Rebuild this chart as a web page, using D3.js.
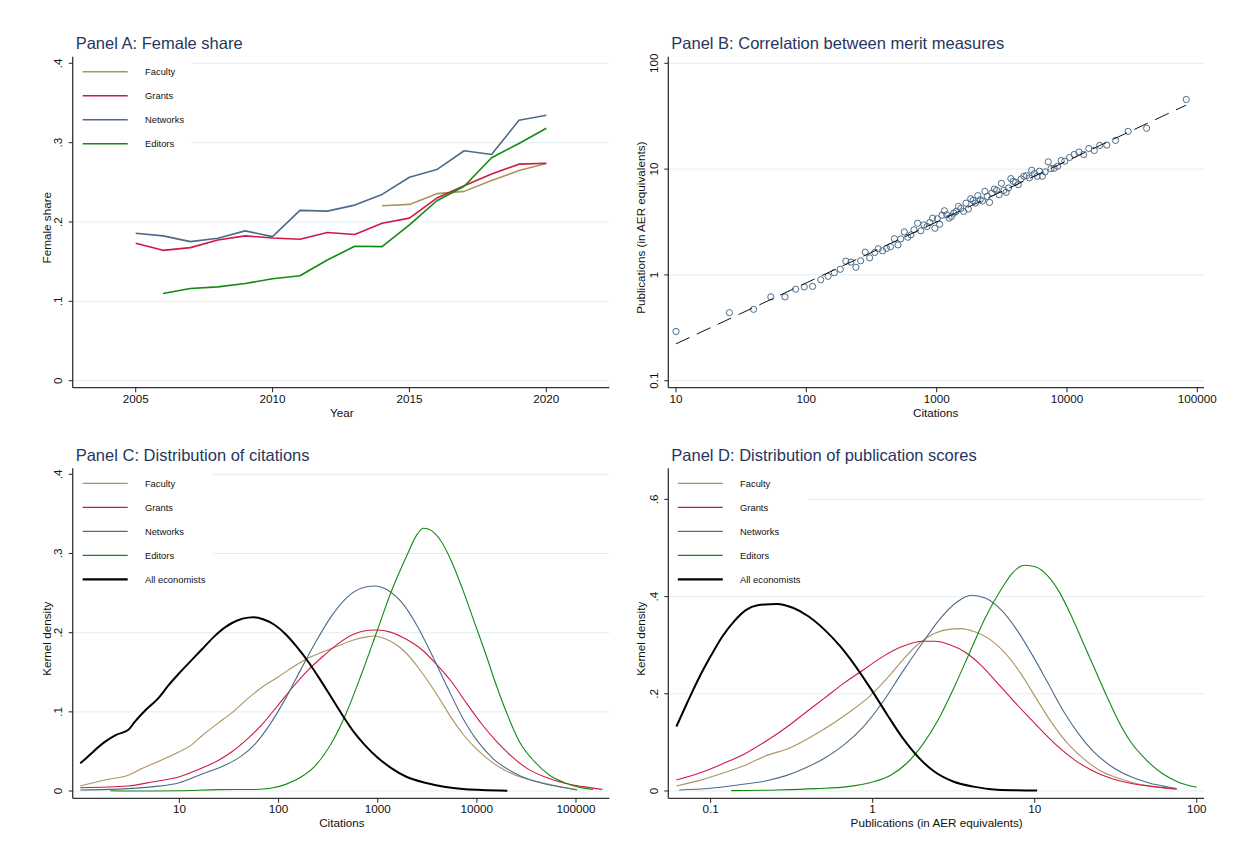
<!DOCTYPE html>
<html><head><meta charset="utf-8">
<script src="https://cdn.jsdelivr.net/npm/d3@7"></script>
<style>
html,body{margin:0;padding:0;background:#fff;}
svg{display:block;font-family:"Liberation Sans",Arial,Helvetica,sans-serif;}
</style></head>
<body><svg id="chart" width="1235" height="859"></svg>
<script>
// ---------------- DATA ----------------
const seriesNames = ["Faculty", "Grants", "Networks", "Editors", "All economists"];
const seriesColors = ["#ab9461", "#cf1946", "#4b6b8a", "#128a12", "#000000"];

// Panel A: female share by year
const years = [2005,2006,2007,2008,2009,2010,2011,2012,2013,2014,2015,2016,2017,2018,2019,2020];
const facultyShare  = [null,null,null,null,null,null,null,null,null,0.2205,0.2222,0.2357,0.2386,0.2522,0.2648,0.2737];
const grantsShare   = [0.1732,0.1643,0.1677,0.1774,0.1825,0.1799,0.1782,0.1867,0.1842,0.1985,0.2049,0.2302,0.2458,0.2606,0.2729,0.2741];
const networksShare = [0.1858,0.1825,0.1753,0.1795,0.1888,0.1816,0.2146,0.2137,0.2213,0.2348,0.2564,0.2661,0.2898,0.2851,0.3282,0.3345];
const editorsShare  = [null,0.1098,0.1162,0.1183,0.1225,0.1284,0.1322,0.1521,0.1694,0.1690,0.1964,0.2268,0.2450,0.2809,0.2990,0.3181];
const yearTicks = [2005, 2010, 2015, 2020];
const shareTicks = [0, 0.1, 0.2, 0.3, 0.4];
const shareTickLabels = ["0", ".1", ".2", ".3", ".4"];

// Panel B: binned citations vs publications
const citations = [10,25.7,39.4,53.4,68.6,82.8,96.4,111.6,129,147,164,182,201,220,240,261,283,306,335,356,385,412,442,474,505,530,564,600,634,670,714,755,798,844,886,930,969,1011,1054,1099,1146,1195,1245,1298,1353,1410,1471,1533,1610,1679,1750,1825,1902,1983,2067,2155,2247,2342,2442,2546,2654,2767,2885,3011,3139,3273,3412,3557,3708,3866,4031,4231,4444,4667,4900,5145,5358,5626,5907,6152,6467,6790,7178,7536,7965,8477,9027,9613,10450,11360,12340,13420,14690,16190,17830,20210,23560,29440,40810,82220];
const publications = [0.292,0.44,0.473,0.62,0.62,0.733,0.77,0.78,0.90,0.97,1.05,1.13,1.35,1.32,1.18,1.36,1.64,1.45,1.63,1.77,1.69,1.78,1.85,2.20,1.92,2.19,2.55,2.27,2.39,2.67,3.08,2.61,2.97,2.87,3.13,3.44,2.76,3.39,3.01,3.67,4.04,3.70,3.44,3.57,3.84,3.98,4.44,4.25,3.98,4.77,4.19,5.25,5.06,4.77,5.61,5.14,4.99,6.16,5.52,4.85,5.94,6.49,6.30,5.73,7.34,6.30,6.03,6.63,8.13,7.67,7.51,7.13,8.07,8.56,8.69,8.26,9.76,9.07,8.56,9.55,8.56,9.42,11.72,10.12,10.19,10.65,12.05,11.88,12.88,13.75,14.48,13.75,15.67,15.0,16.74,16.87,18.67,22.74,24.3,45.5];
const fitCitations = [10, 82000];
const fitPublications = [0.223, 40.2];
const citeTicksB = [10, 100, 1000, 10000, 100000];
const pubTicksB = [0.1, 1, 10, 100];
const pubTickLabelsB = ["0.1", "1", "10", "100"];

// Panel C: kernel densities of citations  [citations, density]
const citFaculty = [[1,0.0063],[1.77,0.0139],[3.04,0.020],[4.24,0.0286],[6.56,0.039],[10,0.0497],[13.2,0.058],[17.2,0.0707],[24.4,0.0855],[34.7,0.100],[49.2,0.117],[69.8,0.132],[99.1,0.144],[141,0.157],[200,0.168],[283,0.176],[403,0.1836],[571,0.1907],[811,0.195],[925,0.1958],[1151,0.193],[1496,0.186],[1945,0.174],[2529,0.157],[3289,0.137],[4276,0.115],[5559,0.092],[7228,0.072],[9397,0.056],[13340,0.039],[18970,0.0265],[26900,0.018],[41690,0.0118],[64570,0.0063],[102600,0.002]];
const citGrants = [[1,0.0042],[3.04,0.0063],[5.51,0.0118],[10,0.018],[15.8,0.0274],[24.4,0.0383],[34.7,0.0505],[49.2,0.0665],[69.8,0.0855],[99.1,0.1086],[141,0.132],[200,0.153],[283,0.1705],[403,0.1865],[571,0.198],[811,0.203],[966,0.2034],[1371,0.2004],[1945,0.1916],[2761,0.179],[3917,0.160],[5559,0.138],[7889,0.1107],[11200,0.0846],[15870,0.0623],[22590,0.0434],[32060,0.0286],[49660,0.0173],[76910,0.0097],[119100,0.0055],[184500,0.0021]];
const citNetworks = [[1,0.0013],[3.04,0.003],[5.51,0.0055],[10,0.0105],[15.8,0.020],[29.1,0.0328],[41.3,0.0434],[58.6,0.060],[83.2,0.0855],[118,0.117],[167,0.153],[238,0.1886],[338,0.220],[480,0.2434],[681,0.256],[925,0.259],[1256,0.254],[1782,0.237],[2529,0.2076],[3589,0.170],[5093,0.130],[7228,0.092],[10250,0.0623],[14560,0.041],[22590,0.0244],[34990,0.0139],[54200,0.0076],[102600,0.0013]];
const citEditors = [[2.01,0.0004],[4.24,0.0],[10.2,0.0004],[24.4,0.0017],[58.6,0.002],[83.2,0.0034],[118,0.0084],[167,0.0173],[238,0.0328],[338,0.0594],[480,0.098],[681,0.1465],[966,0.199],[1371,0.252],[1945,0.296],[2529,0.325],[2884,0.3318],[3289,0.3305],[4276,0.317],[5559,0.290],[7228,0.254],[9397,0.214],[12220,0.174],[15870,0.132],[20700,0.094],[26900,0.0623],[38190,0.037],[54200,0.020],[76910,0.0105],[109100,0.0046],[148300,0.002]];
const citAll = [[1,0.035],[1.14,0.041],[1.36,0.050],[1.77,0.062],[2.30,0.071],[3.04,0.077],[3.56,0.0876],[4.62,0.103],[6.01,0.116],[7.83,0.134],[10,0.149],[13.2,0.165],[17.2,0.180],[22.4,0.195],[29.1,0.207],[37.8,0.215],[49.2,0.219],[56.1,0.2194],[69.8,0.217],[90.8,0.210],[118,0.198],[153,0.182],[200,0.163],[259,0.142],[338,0.119],[440,0.096],[571,0.075],[743,0.058],[982,0.043],[1371,0.029],[1945,0.018],[3013,0.0105],[4667,0.0055],[7228,0.0025],[11200,0.0013],[20320,0.0004]];
const citTicksC = [10, 100, 1000, 10000, 100000];
const densTicksC = [0, 0.1, 0.2, 0.3, 0.4];
const densTickLabelsC = ["0", ".1", ".2", ".3", ".4"];

// Panel D: kernel densities of publication scores  [AER equivalents, density]
const pubFaculty = [[0.0615,0.0103],[0.0846,0.0213],[0.1182,0.0364],[0.165,0.0536],[0.218,0.072],[0.305,0.088],[0.403,0.1086],[0.532,0.1326],[0.703,0.160],[0.931,0.191],[1.230,0.232],[1.535,0.270],[1.919,0.303],[2.40,0.324],[3.0,0.333],[3.55,0.334],[4.19,0.3285],[5.24,0.313],[6.55,0.284],[8.18,0.2426],[10.2,0.191],[12.79,0.1395],[15.96,0.098],[19.95,0.067],[24.9,0.0433],[33.0,0.026],[43.6,0.0144],[57.5,0.0076],[75.2,0.0034]];
const pubGrants = [[0.0615,0.0227],[0.0846,0.0364],[0.1182,0.0557],[0.165,0.0777],[0.218,0.1017],[0.2884,0.129],[0.381,0.160],[0.504,0.191],[0.665,0.222],[0.879,0.2495],[1.161,0.277],[1.535,0.2976],[2.028,0.308],[2.40,0.308],[3.0,0.301],[3.75,0.285],[4.69,0.258],[5.86,0.223],[7.31,0.1876],[9.14,0.153],[11.43,0.119],[14.29,0.088],[17.86,0.0625],[22.3,0.0433],[29.5,0.026],[39.0,0.0158],[54.5,0.0089],[75.2,0.0041]];
const pubNetworks = [[0.064,0.002],[0.1,0.0055],[0.1476,0.0124],[0.218,0.0206],[0.2884,0.031],[0.381,0.0467],[0.504,0.0674],[0.665,0.0948],[0.879,0.1326],[1.161,0.184],[1.535,0.246],[2.028,0.3045],[2.683,0.3595],[3.35,0.390],[4.07,0.4027],[4.95,0.397],[6.19,0.373],[7.74,0.332],[9.66,0.280],[12.08,0.222],[15.1,0.1636],[18.88,0.1155],[23.6,0.0777],[29.5,0.0515],[39.0,0.0296],[51.5,0.0158],[68.1,0.0076],[75.2,0.0048]];
const pubEditors = [[0.134,0.0007],[0.258,0.002],[0.451,0.0048],[0.703,0.0089],[0.984,0.0179],[1.30,0.033],[1.625,0.057],[2.028,0.0948],[2.535,0.146],[3.17,0.212],[3.96,0.284],[4.95,0.356],[6.19,0.414],[7.31,0.449],[8.65,0.4646],[10.2,0.461],[12.08,0.442],[14.29,0.4076],[16.9,0.359],[19.95,0.3045],[23.6,0.2495],[27.9,0.1945],[33.0,0.143],[39.0,0.1017],[48.8,0.064],[61.0,0.0364],[76.0,0.0192],[100,0.0076]];
const pubAll = [[0.0615,0.1326],[0.0716,0.181],[0.0846,0.232],[0.1,0.277],[0.1182,0.318],[0.1396,0.349],[0.165,0.372],[0.1954,0.382],[0.258,0.385],[0.322,0.377],[0.403,0.359],[0.504,0.332],[0.63,0.298],[0.787,0.256],[0.984,0.208],[1.230,0.157],[1.535,0.1086],[1.919,0.069],[2.40,0.040],[3.17,0.019],[4.19,0.0089],[5.86,0.0027],[10.35,0.0007]];
const pubTicksD = [0.1, 1, 10, 100];
const pubTickLabelsD = ["0.1", "1", "10", "100"];
const densTicksD = [0, 0.2, 0.4, 0.6];
const densTickLabelsD = ["0", ".2", ".4", ".6"];

// ---------------- DRAWING ----------------
const svg = d3.select("#chart");
const TITLE_COLOR = "#26365e";
const AXIS_COLOR = "#333";
const GRID_COLOR = "#e3edef";
const TICK_FONT = 11.7, AXTITLE_FONT = 11.7, LEG_FONT = 9.4, TITLE_FONT = 16.5;

function fmtLog(v){ return d3.format("~f")(v); }

function panel(cfg){
  const g = svg.append("g");
  const {x, y, box} = cfg;
  // gridlines
  g.selectAll("line.grid").data(cfg.yTicks).enter().append("line")
    .attr("x1", box.x0).attr("x2", box.x1)
    .attr("y1", d => y(d)).attr("y2", d => y(d))
    .attr("stroke", GRID_COLOR).attr("stroke-width", 1);
  // legend background
  let legG = null;
  if (cfg.legend){
    legG = g.append("g");
  }
  const plotG = g.append("g");
  cfg.draw(plotG);
  // axes
  g.append("line").attr("x1", box.x0).attr("x2", box.x0).attr("y1", box.y0).attr("y2", box.y1)
    .attr("stroke", AXIS_COLOR).attr("stroke-width", 1.3);
  g.append("line").attr("x1", box.x0).attr("x2", box.x1).attr("y1", box.y1).attr("y2", box.y1)
    .attr("stroke", AXIS_COLOR).attr("stroke-width", 1.3);
  // y ticks
  cfg.yTicks.forEach((t, i) => {
    const yy = y(t);
    g.append("line").attr("x1", box.x0 - 4).attr("x2", box.x0).attr("y1", yy).attr("y2", yy)
      .attr("stroke", AXIS_COLOR).attr("stroke-width", 1.1);
    g.append("text").attr("transform", `translate(${box.x0 - 10.5},${yy}) rotate(-90)`)
      .attr("text-anchor", "middle").attr("font-size", TICK_FONT).attr("fill", "#111")
      .text(cfg.yTickLabels[i]);
  });
  // x ticks
  cfg.xTicks.forEach((t) => {
    const xx = x(t);
    g.append("line").attr("x1", xx).attr("x2", xx).attr("y1", box.y1).attr("y2", box.y1 + 4.5)
      .attr("stroke", AXIS_COLOR).attr("stroke-width", 1.1);
    g.append("text").attr("x", xx).attr("y", box.y1 + 15)
      .attr("text-anchor", "middle").attr("font-size", TICK_FONT).attr("fill", "#111")
      .text(cfg.xTickFormat(t));
  });
  // axis titles
  g.append("text").attr("x", cfg.xTitleX).attr("y", box.y1 + 29)
    .attr("text-anchor", "middle").attr("font-size", AXTITLE_FONT).attr("fill", "#111").text(cfg.xTitle);
  g.append("text").attr("transform", `translate(${cfg.yTitleX},${(box.y0 + box.y1)/2 + 5.5}) rotate(-90)`)
    .attr("text-anchor", "middle").attr("font-size", AXTITLE_FONT).attr("fill", "#111").text(cfg.yTitle);
  // panel title
  g.append("text").attr("x", box.x0 + 3).attr("y", box.y0 - 7.7)
    .attr("font-size", TITLE_FONT).attr("fill", TITLE_COLOR).text(cfg.title);
  // legend
  if (cfg.legend){
    const items = cfg.legend;
    const labelX = box.x0 + cfg.legLabelDx;
    const texts = [];
    const itemsG = legG.append("g");
    items.forEach((it, i) => {
      const yy = box.y0 + 15 + i * 24;
      itemsG.append("line").attr("x1", box.x0 + cfg.legLineDx).attr("x2", box.x0 + cfg.legLineDx + 45)
        .attr("y1", yy).attr("y2", yy).attr("stroke", it.color).attr("stroke-width", it.width);
      const t = itemsG.append("text").attr("x", labelX).attr("y", yy + 3.3)
        .attr("font-size", LEG_FONT).attr("fill", "#111").text(it.name);
      texts.push(t);
    });
    const maxW = d3.max(texts, t => t.node().getComputedTextLength());
    legG.insert("rect", ":first-child").attr("x", box.x0 + 0.7).attr("y", box.y0 + 0.7)
      .attr("width", labelX + maxW + 7 - box.x0).attr("height", 15 + (items.length - 1) * 24 + 12)
      .attr("fill", "#fff");
  }
}

// ---- Panel A ----
(function(){
  const box = {x0: 72.7, x1: 609.3, y0: 56.7, y1: 387.7};
  const x = d3.scaleLinear().domain([2002.7, 2022.3]).range([box.x0, box.x1]);
  const y = d3.scaleLinear().domain([-0.0088, 0.4083]).range([box.y1, box.y0]);
  const series = [facultyShare, grantsShare, networksShare, editorsShare];
  panel({
    box, x, y, title: "Panel A: Female share",
    yTicks: shareTicks, yTickLabels: shareTickLabels,
    xTicks: yearTicks, xTickFormat: d => String(d),
    xTitle: "Year", xTitleX: 341.9, yTitle: "Female share", yTitleX: 50.5,
    legend: series.map((s, i) => ({name: seriesNames[i], color: seriesColors[i], width: 1.6})),
    legLineDx: 10, legLabelDx: 72.3,
    draw: (g) => {
      series.forEach((s, i) => {
        const line = d3.line().defined(d => d != null).x((d, j) => x(years[j])).y(d => y(d));
        g.append("path").datum(s).attr("d", line).attr("fill", "none")
          .attr("stroke", seriesColors[i]).attr("stroke-width", 1.6).attr("stroke-linejoin", "round");
      });
    }
  });
})();

// ---- Panel B ----
(function(){
  const box = {x0: 668.3, x1: 1204, y0: 56.7, y1: 387.7};
  const x = d3.scaleLog().domain([Math.pow(10, 0.941), Math.pow(10, 5.051)]).range([box.x0, box.x1]);
  const y = d3.scaleLog().domain([Math.pow(10, -1.066), Math.pow(10, 2.0624)]).range([box.y1, box.y0]);
  panel({
    box, x, y, title: "Panel B: Correlation between merit measures",
    yTicks: pubTicksB, yTickLabels: pubTickLabelsB,
    xTicks: citeTicksB, xTickFormat: d => String(d),
    xTitle: "Citations", xTitleX: 935.7, yTitle: "Publications (in AER equivalents)", yTitleX: 645,
    legend: null,
    draw: (g) => {
      g.selectAll("circle").data(citations).enter().append("circle")
        .attr("cx", d => x(d)).attr("cy", (d, i) => y(publications[i])).attr("r", 3.1)
        .attr("fill", "none").attr("stroke", "#4b6b8a").attr("stroke-width", 1);
      const fit = fitCitations.map((c, i) => [c, fitPublications[i]]);
      g.append("path").datum(fit).attr("d", d3.line().x(d => x(d[0])).y(d => y(d[1])))
        .attr("fill", "none").attr("stroke", "#111").attr("stroke-width", 1)
        .attr("stroke-dasharray", "15,8");
    }
  });
})();

function densityPanel(opts){
  const {box, x, y} = opts;
  panel({
    box, x, y, title: opts.title,
    yTicks: opts.yTicks, yTickLabels: opts.yTickLabels,
    xTicks: opts.xTicks, xTickFormat: d => String(d),
    xTitle: opts.xTitle, xTitleX: opts.xTitleX, yTitle: "Kernel density", yTitleX: opts.yTitleX,
    legend: seriesNames.map((n, i) => ({name: n, color: seriesColors[i], width: i === 4 ? 2.2 : 1.2})),
    legLineDx: opts.legLineDx, legLabelDx: opts.legLabelDx,
    draw: (g) => {
      const line = d3.line().curve(d3.curveMonotoneX).x(d => x(d[0])).y(d => y(d[1]));
      opts.series.forEach((s, i) => {
        g.append("path").datum(s).attr("d", line).attr("fill", "none")
          .attr("stroke", seriesColors[i]).attr("stroke-width", i === 4 ? 2 : 1.1)
          .attr("stroke-linejoin", "round");
      });
    }
  });
}

// ---- Panel C ----
(function(){
  const box = {x0: 72.7, x1: 609.3, y0: 468.3, y1: 798.3};
  densityPanel({
    box, title: "Panel C: Distribution of citations",
    x: d3.scaleLog().domain([Math.pow(10, -0.076), Math.pow(10, 5.336)]).range([box.x0, box.x1]),
    y: d3.scaleLinear().domain([-0.0092, 0.4076]).range([box.y1, box.y0]),
    yTicks: densTicksC, yTickLabels: densTickLabelsC, xTicks: citTicksC,
    xTitle: "Citations", xTitleX: 341.9, yTitleX: 50.5,
    legLineDx: 10, legLabelDx: 72.2,
    series: [citFaculty, citGrants, citNetworks, citEditors, citAll]
  });
})();

// ---- Panel D ----
(function(){
  const box = {x0: 668.3, x1: 1204, y0: 468.3, y1: 798.3};
  densityPanel({
    box, title: "Panel D: Distribution of publication scores",
    x: d3.scaleLog().domain([Math.pow(10, -1.261), Math.pow(10, 2.045)]).range([box.x0, box.x1]),
    y: d3.scaleLinear().domain([-0.0151, 0.664]).range([box.y1, box.y0]),
    yTicks: densTicksD, yTickLabels: densTickLabelsD, xTicks: pubTicksD,
    xTitle: "Publications (in AER equivalents)", xTitleX: 936.7, yTitleX: 645,
    legLineDx: 9.5, legLabelDx: 71.7,
    series: [pubFaculty, pubGrants, pubNetworks, pubEditors, pubAll]
  });
})();
</script>
</body></html>
